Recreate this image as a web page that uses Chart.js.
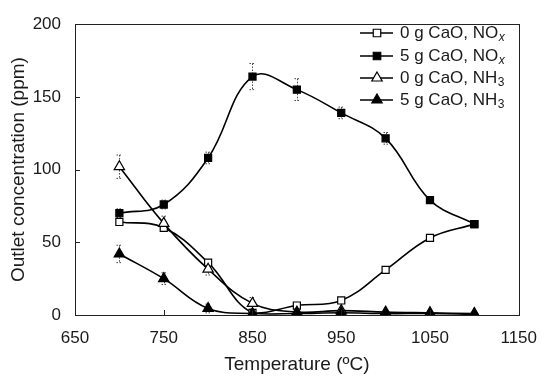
<!DOCTYPE html>
<html>
<head>
<meta charset="utf-8">
<script src="https://cdn.jsdelivr.net/npm/chart.js@4"></script>
<style>
html,body{margin:0;padding:0;background:#fff;}
#wrap{width:550px;height:380px;position:relative;}
</style>
</head>
<body>
<div id="wrap"><canvas id="c" width="550" height="380"></canvas></div>
<script>
// ---- data ----
const temperatures = [700, 750, 800, 850, 900, 950, 1000, 1050, 1100];
const noxNoCaO   = [64, 60, 36, 1.5, 6.5, 10, 31, 53, 62.5];
const noxCaO     = [70, 76, 108, 164, 155, 139, 121.5, 79, 62.5];
const nh3NoCaO   = [102, 63, 31.5, 8, 2, 3, 2, 1.5, 1];
const nh3CaO     = [42, 25, 4.5, 1, 1, 1.5, 1, 1, 0.5];
const errNoxNoCaO = [2, 2, 2, 1, 1, 1, 1, 1, 1];
const errNoxCaO   = [3, 3, 4, 9, 7.5, 4, 4, 2, 1];
const errNh3NoCaO = [8, 5, 4, 4, 1, 1, 1, 1, 1];
const errNh3CaO   = [6, 4, 3, 1, 1, 1, 1, 1, 1];
const seriesNames = [
  ['0 g CaO, NO', 'x', true],
  ['5 g CaO, NO', 'x', true],
  ['0 g CaO, NH', '3', false],
  ['5 g CaO, NH', '3', false]
];
const xTicks = [650, 750, 850, 950, 1050, 1150];
const yTicks = [0, 50, 100, 150, 200];

const FONT = '"Liberation Sans", Arial, sans-serif';
const TXT = '#1a1a1a';

function pts(vals){ return temperatures.map((t,i)=>({x:t,y:vals[i]})); }

const styles = [
  {ps:'rect', fill:'#ffffff', r:5},
  {ps:'rect', fill:'#000000', r:5},
  {ps:'triangle', fill:'#ffffff', r:6},
  {ps:'triangle', fill:'#000000', r:6}
];
const allVals = [noxNoCaO, noxCaO, nh3NoCaO, nh3CaO];
const allErr = [errNoxNoCaO, errNoxCaO, errNh3NoCaO, errNh3CaO];

const datasets = allVals.map((v,i)=>({
  label: seriesNames[i][0] + seriesNames[i][1],
  data: pts(v),
  errors: allErr[i],
  borderColor: '#000',
  borderWidth: 1.6,
  backgroundColor: styles[i].fill,
  pointStyle: styles[i].ps,
  pointRadius: styles[i].r,
  pointBorderColor: '#000',
  pointBorderWidth: 1.2,
  pointBackgroundColor: styles[i].fill,
  tension: 0.4,
  order: 4 - i
}));

const errorBars = {
  id: 'errorBars',
  beforeDatasetsDraw(chart){
    const ctx = chart.ctx, xs = chart.scales.x, ys = chart.scales.y;
    ctx.save();
    ctx.strokeStyle = '#444';
    ctx.lineWidth = 1;
    ctx.setLineDash([1.5,1.5]);
    chart.data.datasets.forEach(ds=>{
      ds.data.forEach((p,i)=>{
        const e = ds.errors[i];
        if (!e) return;
        const px = Math.round(xs.getPixelForValue(p.x)) + 0.5;
        const y1 = ys.getPixelForValue(p.y + e), y2 = ys.getPixelForValue(Math.max(0,p.y - e));
        ctx.beginPath();
        ctx.moveTo(px, y1); ctx.lineTo(px, y2);
        ctx.moveTo(px-3, y1); ctx.lineTo(px+3, y1);
        ctx.moveTo(px-3, y2); ctx.lineTo(px+3, y2);
        ctx.stroke();
      });
    });
    ctx.restore();
  }
};

const frame = {
  id: 'frame',
  afterDraw(chart){
    const ctx = chart.ctx, a = chart.chartArea, xs = chart.scales.x, ys = chart.scales.y;
    ctx.save();
    ctx.strokeStyle = '#222';
    ctx.lineWidth = 1;
    ctx.strokeRect(Math.round(a.left)+0.5, Math.round(a.top)+0.5, Math.round(a.right-a.left), Math.round(a.bottom-a.top));
    ctx.beginPath();
    xTicks.forEach(t=>{
      const px = Math.round(xs.getPixelForValue(t))+0.5;
      ctx.moveTo(px, a.bottom); ctx.lineTo(px, a.bottom-5);
    });
    yTicks.forEach(t=>{
      const py = Math.round(ys.getPixelForValue(t))+0.5;
      ctx.moveTo(a.left, py); ctx.lineTo(a.left+5, py);
    });
    ctx.stroke();
    // legend
    const lx0 = 360, lx1 = 393, mx = 377, tx = 400;
    const rowY = [33, 56, 78, 100];
    seriesNames.forEach((n,i)=>{
      const y = rowY[i];
      ctx.strokeStyle = '#000'; ctx.lineWidth = 1.6; ctx.setLineDash([]);
      ctx.beginPath(); ctx.moveTo(lx0, y); ctx.lineTo(lx1, y); ctx.stroke();
      ctx.fillStyle = styles[i].fill; ctx.lineWidth = 1.2;
      const r = styles[i].r;
      ctx.beginPath();
      if (styles[i].ps === 'rect') {
        const s = r*0.75;
        ctx.rect(mx - s, y - s, 2*s, 2*s);
      } else {
        ctx.moveTo(mx, y - r); ctx.lineTo(mx + r*0.866, y + r*0.5); ctx.lineTo(mx - r*0.866, y + r*0.5); ctx.closePath();
      }
      ctx.fill(); ctx.stroke();
      ctx.fillStyle = TXT;
      ctx.textBaseline = 'middle';
      ctx.textAlign = 'left';
      ctx.font = '17px ' + FONT;
      ctx.fillText(n[0], tx, y);
      const w = ctx.measureText(n[0]).width;
      ctx.font = (n[2] ? 'italic ' : '') + '12px ' + FONT;
      ctx.fillText(n[1], tx + w + 0.5, y + 5);
    });
    ctx.restore();
  }
};

new Chart(document.getElementById('c'), {
  type: 'line',
  data: { datasets },
  options: {
    responsive: false,
    animation: false,
    devicePixelRatio: 1,
    layout: { padding: { left: 0, right: 23, top: 14, bottom: 0 } },
    plugins: { legend: { display: false }, tooltip: { enabled: false } },
    scales: {
      x: {
        type: 'linear', min: 650, max: 1150,
        afterBuildTicks(s){ s.ticks = xTicks.map(v=>({value:v})); },
        afterFit(s){ s.height = 65; },
        grid: { display: false, drawTicks: false },
        border: { display: false },
        ticks: { color: TXT, font: { family: FONT, size: 17 }, padding: 13, maxRotation: 0, callback: v => String(v) },
        title: { display: true, text: 'Temperature (ºC)', color: TXT, font: { family: FONT, size: 19 }, padding: { top: 0, bottom: 4 } }
      },
      y: {
        type: 'linear', min: 0, max: 200,
        afterBuildTicks(s){ s.ticks = yTicks.map(v=>({value:v})); },
        afterFit(s){ s.width = 75; },
        grid: { display: false, drawTicks: false },
        border: { display: false },
        ticks: { color: TXT, font: { family: FONT, size: 17 }, padding: 14, callback: v => String(v) },
        title: { display: true, text: 'Outlet concentration (ppm)', color: TXT, font: { family: FONT, size: 19 }, padding: { top: 7, bottom: 0 } }
      }
    }
  },
  plugins: [errorBars, frame]
});
</script>
</body>
</html>
